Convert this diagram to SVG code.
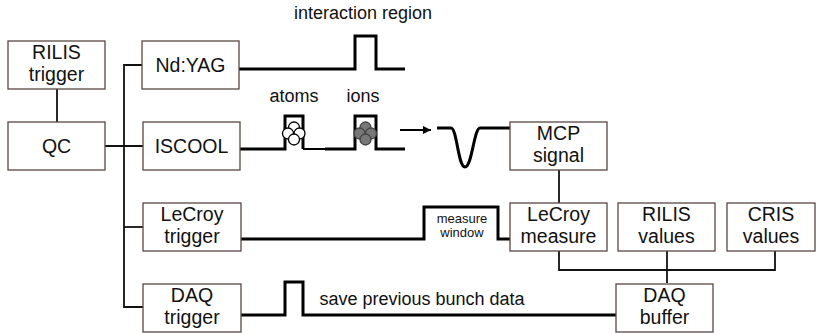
<svg xmlns="http://www.w3.org/2000/svg" width="817" height="333" viewBox="0 0 817 333">
<defs>
<style>
.box{fill:#fff;stroke:#5a4846;stroke-width:1.3}
.lbl{font-family:"Liberation Sans",Arial,sans-serif;font-size:19.5px;fill:#111;text-anchor:middle}
.ann{font-family:"Liberation Sans",Arial,sans-serif;font-size:18px;fill:#111;text-anchor:middle}
.small{font-family:"Liberation Sans",Arial,sans-serif;font-size:13px;fill:#111;text-anchor:middle}
.conn{fill:none;stroke:#111;stroke-width:1.8}
.sig{fill:none;stroke:#000;stroke-width:3}
.atom{fill:#fff;stroke:#000;stroke-width:1.3}
.ion{fill:#777;stroke:#444;stroke-width:1.3}
</style>
<marker id="arr" viewBox="0 0 10 10" refX="10" refY="5" markerWidth="10" markerHeight="8" markerUnits="userSpaceOnUse" orient="auto">
<path d="M0,0 L10,5 L0,10 Z" fill="#000"/>
</marker>
</defs>
<rect width="817" height="333" fill="#fff"/>

<g id="connectors">
<path class="conn" d="M57,89 V122"/>
<path class="conn" d="M105,146 H143"/>
<path class="conn" d="M143,65 H124 V307 H143"/>
<path class="conn" d="M124,227 H143"/>
<path class="conn" d="M559,170 V203"/>
<path class="conn" d="M559,250 V270 H775 V250"/>
<path class="conn" d="M667,250 V283"/>
<path class="sig" d="M239,69 H355 V36 H376 V69 H405"/>
<path class="sig" d="M240,149 H285 V116 H303 V149"/>
<path fill="none" stroke="#000" stroke-width="2" d="M303,149 H326"/>
<path class="sig" d="M325,149 H355 V116 H376 V149 H405"/>
<path fill="none" stroke="#000" stroke-width="2" d="M400,130 H431" marker-end="url(#arr)"/>
<path class="sig" d="M437,128 H451 C457,128 458,167 465,167 C472,167 474,128 480,128 H510"/>
<path class="sig" d="M241,239 H424 V207 H498 V239 H510"/>
<path class="sig" d="M241,315 H285 V282 H303 V315 H616"/>
</g>

<g id="atoms">
<circle class="atom" cx="294" cy="127.5" r="5.5"/>
<circle class="atom" cx="288" cy="133.5" r="5.5"/>
<circle class="atom" cx="299.5" cy="133.5" r="5.5"/>
<circle class="atom" cx="294" cy="139.5" r="5.5"/>
</g>
<g id="ions">
<circle class="ion" cx="365.5" cy="127.5" r="5.5"/>
<circle class="ion" cx="359.5" cy="133.5" r="5.5"/>
<circle class="ion" cx="371" cy="133.5" r="5.5"/>
<circle class="ion" cx="365.5" cy="139.5" r="5.5"/>
</g>

<g id="labels">
<text class="ann" x="363" y="19">interaction region</text>
<text class="ann" x="294" y="102">atoms</text>
<text class="ann" x="363" y="102">ions</text>
<text class="small" x="462" y="223">measure</text>
<text class="small" x="462" y="237">window</text>
<text class="ann" x="422" y="305">save previous bunch data</text>
</g>

<g id="rilis-trigger"><rect class="box" x="8" y="41" width="97" height="48"/><text class="lbl" x="56.5" y="58.5">RILIS</text><text class="lbl" x="56.5" y="81">trigger</text></g>
<g id="qc"><rect class="box" x="8" y="122" width="97" height="48"/><text class="lbl" x="56.5" y="153">QC</text></g>
<g id="ndyag"><rect class="box" x="142" y="41" width="97" height="48"/><text class="lbl" x="190.5" y="72">Nd:YAG</text></g>
<g id="iscool"><rect class="box" x="143" y="122" width="97" height="48"/><text class="lbl" x="191.5" y="153">ISCOOL</text></g>
<g id="lecroy-trigger"><rect class="box" x="143" y="203" width="98" height="48"/><text class="lbl" x="192" y="220.5">LeCroy</text><text class="lbl" x="192" y="243">trigger</text></g>
<g id="daq-trigger"><rect class="box" x="143" y="284" width="98" height="48"/><text class="lbl" x="192" y="301.5">DAQ</text><text class="lbl" x="192" y="324">trigger</text></g>
<g id="mcp-signal"><rect class="box" x="510" y="122" width="97" height="48"/><text class="lbl" x="558.5" y="139.5">MCP</text><text class="lbl" x="558.5" y="162">signal</text></g>
<g id="lecroy-measure"><rect class="box" x="510" y="203" width="97" height="48"/><text class="lbl" x="558.5" y="220.5">LeCroy</text><text class="lbl" x="558.5" y="243">measure</text></g>
<g id="rilis-values"><rect class="box" x="618" y="203" width="97" height="48"/><text class="lbl" x="666.5" y="220.5">RILIS</text><text class="lbl" x="666.5" y="243">values</text></g>
<g id="cris-values"><rect class="box" x="727" y="203" width="88" height="48"/><text class="lbl" x="771" y="220.5">CRIS</text><text class="lbl" x="771" y="243">values</text></g>
<g id="daq-buffer"><rect class="box" x="616" y="284" width="97" height="48"/><text class="lbl" x="664.5" y="301.5">DAQ</text><text class="lbl" x="664.5" y="324">buffer</text></g>
</svg>
